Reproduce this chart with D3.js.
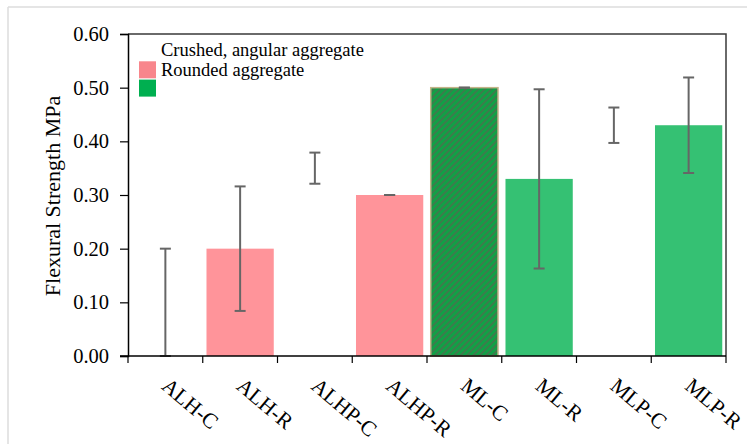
<!DOCTYPE html>
<html>
<head>
<meta charset="utf-8">
<script src="https://cdn.jsdelivr.net/npm/d3@7/dist/d3.min.js"></script>
<style>
  html, body { margin: 0; padding: 0; background: #fff; }
  svg { display: block; }
</style>
</head>
<body>
<svg id="chart" width="747" height="444" font-family="Liberation Serif"></svg>
<script>
// Mix designs and their aggregate type
const categories = ["ALH-C", "ALH-R", "ALHP-C", "ALHP-R", "ML-C", "ML-R", "MLP-C", "MLP-R"];
// Mean flexural strength (MPa)
const strength = [0.10, 0.20, 0.35, 0.30, 0.50, 0.33, 0.43, 0.43];
// Standard deviation (MPa)
const stdev = [0.10, 0.116, 0.029, 0.0, 0.0, 0.167, 0.033, 0.089];
// Bar style key per design
const barStyle = ["crushed", "roundedAL", "crushed", "roundedAL", "hatched", "roundedML", "crushed", "roundedML"];
const yTicks = [0, 0.1, 0.2, 0.3, 0.4, 0.5, 0.6];
const legendLabels = ["Crushed, angular aggregate", "Rounded aggregate"];

const FONT = "Liberation Serif";

const fills = {
  crushed: "#ffffff",
  roundedAL: "#ff949a",
  roundedML: "#35c173",
  hatched: "url(#diag)"
};

const svg = d3.select("#chart");

// Outer figure border
svg.append("line").attr("x1", 8).attr("y1", 7).attr("x2", 747).attr("y2", 7)
  .attr("stroke", "#dcdcdc").attr("stroke-width", 1.5);
svg.append("line").attr("x1", 8).attr("y1", 7).attr("x2", 8).attr("y2", 444)
  .attr("stroke", "#dcdcdc").attr("stroke-width", 1.5);

// Diagonal hatch for the ML-C bar
const defs = svg.append("defs");
const pat = defs.append("pattern").attr("id", "diag")
  .attr("patternUnits", "userSpaceOnUse").attr("width", 4.5).attr("height", 4.5)
  .attr("patternTransform", "rotate(-45)");
pat.append("rect").attr("width", 4.5).attr("height", 4.5).attr("fill", "#11a046");
pat.append("rect").attr("width", 4.5).attr("height", 1.8).attr("fill", "#3f7a4c");

const plotLeft = 128, plotRight = 726, plotTop = 34, plotBottom = 356;

const x = d3.scaleBand().domain(categories).range([plotLeft, plotRight])
  .paddingInner(0.1).paddingOuter(0.05);
const y = d3.scaleLinear().domain([0, 0.6]).range([plotBottom, plotTop]);

// Bars
svg.append("g").selectAll("rect").data(categories).join("rect")
  .attr("x", d => x(d))
  .attr("y", (d, i) => y(strength[i]))
  .attr("width", x.bandwidth())
  .attr("height", (d, i) => y(0) - y(strength[i]))
  .attr("fill", (d, i) => fills[barStyle[i]])
  .attr("stroke", (d, i) => barStyle[i] === "hatched" ? "#c4b58a" : "none")
  .attr("stroke-width", 1.5);

// Error bars
const eb = svg.append("g").attr("stroke", "#666").attr("stroke-width", 2);
categories.forEach((c, i) => {
  const cx = x(c) + x.bandwidth() / 2;
  const hi = strength[i] + stdev[i];
  const lo = Math.max(0, strength[i] - stdev[i]);
  eb.append("line").attr("x1", cx).attr("x2", cx).attr("y1", y(hi)).attr("y2", y(lo));
  eb.append("line").attr("x1", cx - 5.5).attr("x2", cx + 5.5).attr("y1", y(hi)).attr("y2", y(hi));
  eb.append("line").attr("x1", cx - 5.5).attr("x2", cx + 5.5).attr("y1", y(lo)).attr("y2", y(lo));
});

// Plot frame (top and right)
svg.append("path")
  .attr("d", `M${plotLeft},${plotTop}H${plotRight}V${plotBottom}`)
  .attr("fill", "none").attr("stroke", "#3a3a3a").attr("stroke-width", 1.5);

// Y axis
const yAxis = svg.append("g").attr("transform", `translate(${plotLeft},0)`)
  .call(d3.axisLeft(y).tickValues(yTicks).tickFormat(d3.format(".2f")).tickSize(8).tickPadding(11))
  .attr("font-family", FONT).attr("font-size", 20.5);
yAxis.select(".domain").attr("stroke", "#000").attr("stroke-width", 1.5);
yAxis.selectAll(".tick line").attr("stroke", "#000").attr("stroke-width", 1.2);
yAxis.selectAll(".tick text").attr("font-family", FONT).attr("fill", "#000");

// X axis: ticks at band boundaries
const xAxisG = svg.append("g").attr("transform", `translate(0,${plotBottom})`);
xAxisG.append("line").attr("x1", plotLeft - 8).attr("x2", plotRight).attr("y1", 0).attr("y2", 0)
  .attr("stroke", "#000").attr("stroke-width", 1.5);
const bounds = categories.map(c => x(c) - x.step() * x.paddingInner() / 2);
bounds[0] = plotLeft;
bounds.push(plotRight);
xAxisG.selectAll("line.tk").data(bounds).join("line").attr("class", "tk")
  .attr("x1", d => d).attr("x2", d => d).attr("y1", 0).attr("y2", 7)
  .attr("stroke", "#000").attr("stroke-width", 1.2);
xAxisG.selectAll("text").data(categories).join("text")
  .attr("transform", d => `translate(${x(d) + x.bandwidth() / 2 - 5},${32}) rotate(40)`)
  .attr("text-anchor", "start")
  .attr("font-family", FONT)
  .attr("font-size", 21.5)
  .text(d => d);

// Y axis title
svg.append("text")
  .attr("transform", `translate(60,196) rotate(-90)`)
  .attr("text-anchor", "middle")
  .attr("font-family", FONT)
  .attr("font-size", 22)
  .text("Flexural Strength MPa");

// Legend
const legendSwatches = [fills.crushed, "#f8868c", "#00af50"];
const lg = svg.append("g");
legendSwatches.forEach((f, i) => {
  lg.append("rect").attr("x", 139).attr("y", 43 + i * 18.3).attr("width", 17).attr("height", 17).attr("fill", f);
});
legendLabels.forEach((t, i) => {
  lg.append("text").attr("x", 161).attr("y", 56 + i * 19.5)
    .attr("font-family", FONT).attr("font-size", 18.5).text(t);
});
</script>
</body>
</html>
